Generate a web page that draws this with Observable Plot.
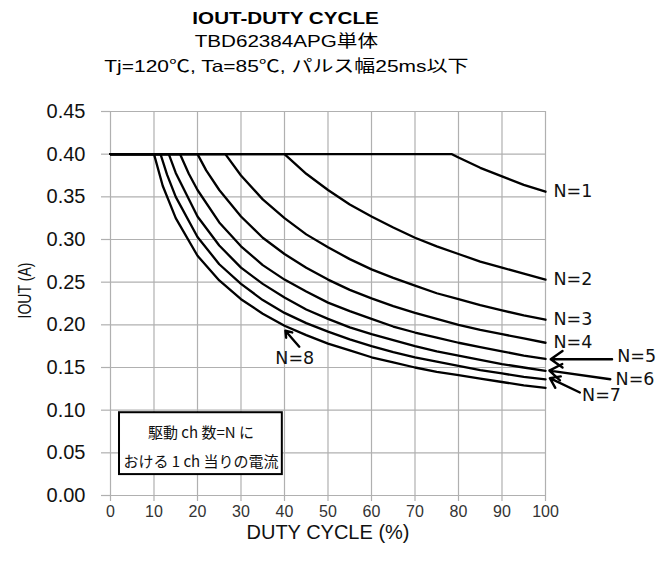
<!DOCTYPE html>
<html><head><meta charset="utf-8">
<script src="https://cdn.jsdelivr.net/npm/d3@7"></script>
<script src="https://cdn.jsdelivr.net/npm/@observablehq/plot@0.6"></script>
<style>
body{margin:0;background:#fff;width:672px;height:563px;overflow:hidden;font-family:"Liberation Sans",Arial,"Noto Sans CJK JP",sans-serif;}
#titles{position:relative;height:85px;}
.t{position:absolute;left:0;width:572px;text-align:center;white-space:nowrap;line-height:20px;color:#000;font-size:16.5px;}
.t span{display:inline-block;transform:scaleX(1.25);transform-origin:center;}
.t1{top:8px;font-weight:bold;}
.t2{top:31px;}
.t3{top:56px;}
.t3 span{transform:scaleX(1.27);}
</style></head><body>
<div id="titles"></div>
<div id="chart"></div>
<script>
// ---- titles ----
const titleLines = ["IOUT-DUTY CYCLE", "TBD62384APG単体", "Tj=120℃, Ta=85℃, パルス幅25ms以下"];
// ---- axes ----
const xTicks = [0, 10, 20, 30, 40, 50, 60, 70, 80, 90, 100];
const yTicks = [0, 0.05, 0.10, 0.15, 0.20, 0.25, 0.30, 0.35, 0.40, 0.45];
const xLabel = "DUTY CYCLE (%)";
const yLabel = "IOUT (A)";
// ---- series ----
const seriesNames = ["N=1", "N=2", "N=3", "N=4", "N=5", "N=6", "N=7", "N=8"];
const dutyN1 = [0, 78.5, 80, 85, 90, 95, 100];
const ioutN1 = [0.400, 0.400, 0.396, 0.384, 0.374, 0.364, 0.356];
const dutyN2 = [0, 40, 45, 50, 55, 60, 65, 70, 75, 80, 85, 90, 95, 100];
const ioutN2 = [0.400, 0.400, 0.377, 0.358, 0.341, 0.327, 0.314, 0.302, 0.292, 0.283, 0.274, 0.267, 0.260, 0.253];
const dutyN3 = [0, 26.4, 30, 35, 40, 45, 50, 55, 60, 65, 70, 75, 80, 85, 90, 95, 100];
const ioutN3 = [0.400, 0.400, 0.375, 0.347, 0.325, 0.306, 0.291, 0.277, 0.265, 0.255, 0.246, 0.237, 0.230, 0.223, 0.217, 0.211, 0.206];
const dutyN4 = [0, 20, 22, 25, 30, 35, 40, 45, 50, 55, 60, 65, 70, 75, 80, 85, 90, 95, 100];
const ioutN4 = [0.400, 0.400, 0.381, 0.358, 0.327, 0.302, 0.283, 0.267, 0.253, 0.241, 0.231, 0.222, 0.214, 0.207, 0.200, 0.194, 0.189, 0.184, 0.179];
const dutyN5 = [0, 16, 18, 20, 25, 30, 35, 40, 45, 50, 55, 60, 65, 70, 75, 80, 85, 90, 95, 100];
const ioutN5 = [0.400, 0.400, 0.377, 0.358, 0.320, 0.292, 0.270, 0.253, 0.239, 0.226, 0.216, 0.207, 0.198, 0.191, 0.185, 0.179, 0.174, 0.169, 0.164, 0.160];
const dutyN6 = [0, 13.4, 15, 20, 25, 30, 35, 40, 45, 50, 55, 60, 65, 70, 75, 80, 85, 90, 95, 100];
const ioutN6 = [0.400, 0.400, 0.378, 0.327, 0.293, 0.267, 0.248, 0.232, 0.218, 0.207, 0.197, 0.189, 0.182, 0.175, 0.169, 0.164, 0.159, 0.154, 0.150, 0.146];
const dutyN7 = [0, 11.5, 13, 15, 20, 25, 30, 35, 40, 45, 50, 55, 60, 65, 70, 75, 80, 85, 90, 95, 100];
const ioutN7 = [0.400, 0.400, 0.376, 0.350, 0.303, 0.271, 0.248, 0.229, 0.214, 0.202, 0.192, 0.183, 0.175, 0.168, 0.162, 0.157, 0.152, 0.147, 0.143, 0.139, 0.136];
const dutyN8 = [0, 10, 12, 15, 20, 25, 30, 35, 40, 45, 50, 55, 60, 65, 70, 75, 80, 85, 90, 95, 100];
const ioutN8 = [0.400, 0.400, 0.363, 0.325, 0.281, 0.252, 0.230, 0.213, 0.199, 0.188, 0.178, 0.170, 0.162, 0.156, 0.150, 0.145, 0.141, 0.137, 0.133, 0.129, 0.126];
// ---- annotations ----
const boxLines = ["駆動 ch 数=N に", "おける 1 ch 当りの電流"];
const calloutNames = ["N=5", "N=6", "N=7", "N=8"];

const duties = [dutyN1, dutyN2, dutyN3, dutyN4, dutyN5, dutyN6, dutyN7, dutyN8];
const iouts = [ioutN1, ioutN2, ioutN3, ioutN4, ioutN5, ioutN6, ioutN7, ioutN8];

const rows = seriesNames.flatMap((n, i) => duties[i].map((d, j) => ({n, duty: d, iout: iouts[i][j]})));
const ends = seriesNames.slice(0, 4).map((n, i) => ({n, duty: duties[i][duties[i].length - 1], iout: iouts[i][iouts[i].length - 1]}));

const callouts = [
  {n: calloutNames[0], tx: 116.5, ty: 0.1627, x1: 115.3, y1: 0.1597, x2: 101.2, y2: 0.1597},
  {n: calloutNames[1], tx: 116.1, ty: 0.1355, x1: 114.9, y1: 0.1363, x2: 100.9, y2: 0.1464},
  {n: calloutNames[2], tx: 108.4, ty: 0.1168, x1: 107.9, y1: 0.1207, x2: 101.0, y2: 0.1375},
  {n: calloutNames[3], tx: 37.9, ty: 0.161, x1: 43.4, y1: 0.1744, x2: 40.2, y2: 0.1931}
];

const titles = document.getElementById("titles");
titleLines.forEach((t, i) => {
  const d = document.createElement("div");
  d.className = "t t" + (i + 1);
  const s = document.createElement("span");
  s.textContent = t;
  d.appendChild(s);
  titles.appendChild(d);
});

const grid = "#b0b0b0";
const chart = Plot.plot({
  width: 672,
  height: 478,
  marginTop: 26,
  marginBottom: 68,
  marginLeft: 110,
  marginRight: 127,
  style: {fontFamily: "'Liberation Sans', Arial, 'Noto Sans CJK JP', sans-serif", fontSize: "16px", color: "#000", background: "#fff", overflow: "visible"},
  x: {domain: [0, 100], axis: null},
  y: {domain: [0, 0.45], axis: null},
  marks: [
    Plot.gridX({ticks: xTicks, stroke: grid, strokeOpacity: 1, strokeWidth: 1.2}),
    Plot.gridY({ticks: yTicks, stroke: grid, strokeOpacity: 1, strokeWidth: 1.2}),
    Plot.axisX({ticks: xTicks, tickFormat: d3.format("d"), tickSize: 6, tickPadding: 4, stroke: grid, strokeWidth: 1.2, fill: "#333", fontSize: 16, label: null}),
    Plot.axisY({ticks: yTicks, tickFormat: d3.format(".2f"), tickSize: 9, tickPadding: 16, stroke: grid, strokeWidth: 1.2, fill: "#111", fontSize: 20, label: null}),
    Plot.text([xLabel], {frameAnchor: "bottom", dy: 43, fontSize: 20, fill: "#111"}),
    Plot.text([yLabel], {frameAnchor: "left", textAnchor: "middle", rotate: -90, dx: -85, dy: -13, fontSize: 18.5, fill: "#111", className: "ylabel"}),
    Plot.line(rows, {x: "duty", y: "iout", z: "n", stroke: "#000", strokeWidth: 2.3}),
    Plot.text(ends, {x: "duty", y: "iout", text: "n", textAnchor: "start", dx: 8, fontSize: 17.5, fontFamily: "'DejaVu Sans', sans-serif", fill: "#111"}),
    Plot.arrow(callouts, {x1: "x1", y1: "y1", x2: "x2", y2: "y2", stroke: "#000", strokeWidth: 2.4, headLength: 9, headAngle: 70}),
    Plot.text(callouts, {x: "tx", y: "ty", text: "n", textAnchor: "start", fontSize: 17.5, fontFamily: "'DejaVu Sans', sans-serif", fill: "#111"}),
    Plot.rect([boxLines], {x1: 2.07, x2: 39.5, y1: 0.0245, y2: 0.097, fill: "#fff", stroke: "#000", strokeWidth: 2}),
    Plot.text(boxLines, {x: 20.8, y: (d, i) => [0.0736, 0.0386][i], text: d => d, fontSize: 15, fill: "#111", fontFamily: "'Noto Sans CJK JP', sans-serif"})
  ]
});
d3.select(chart).selectAll("text")
  .filter(function () { return this.textContent === yLabel; })
  .attr("textLength", 56)
  .attr("lengthAdjust", "spacingAndGlyphs");
document.getElementById("chart").appendChild(chart);
</script>
</body></html>
